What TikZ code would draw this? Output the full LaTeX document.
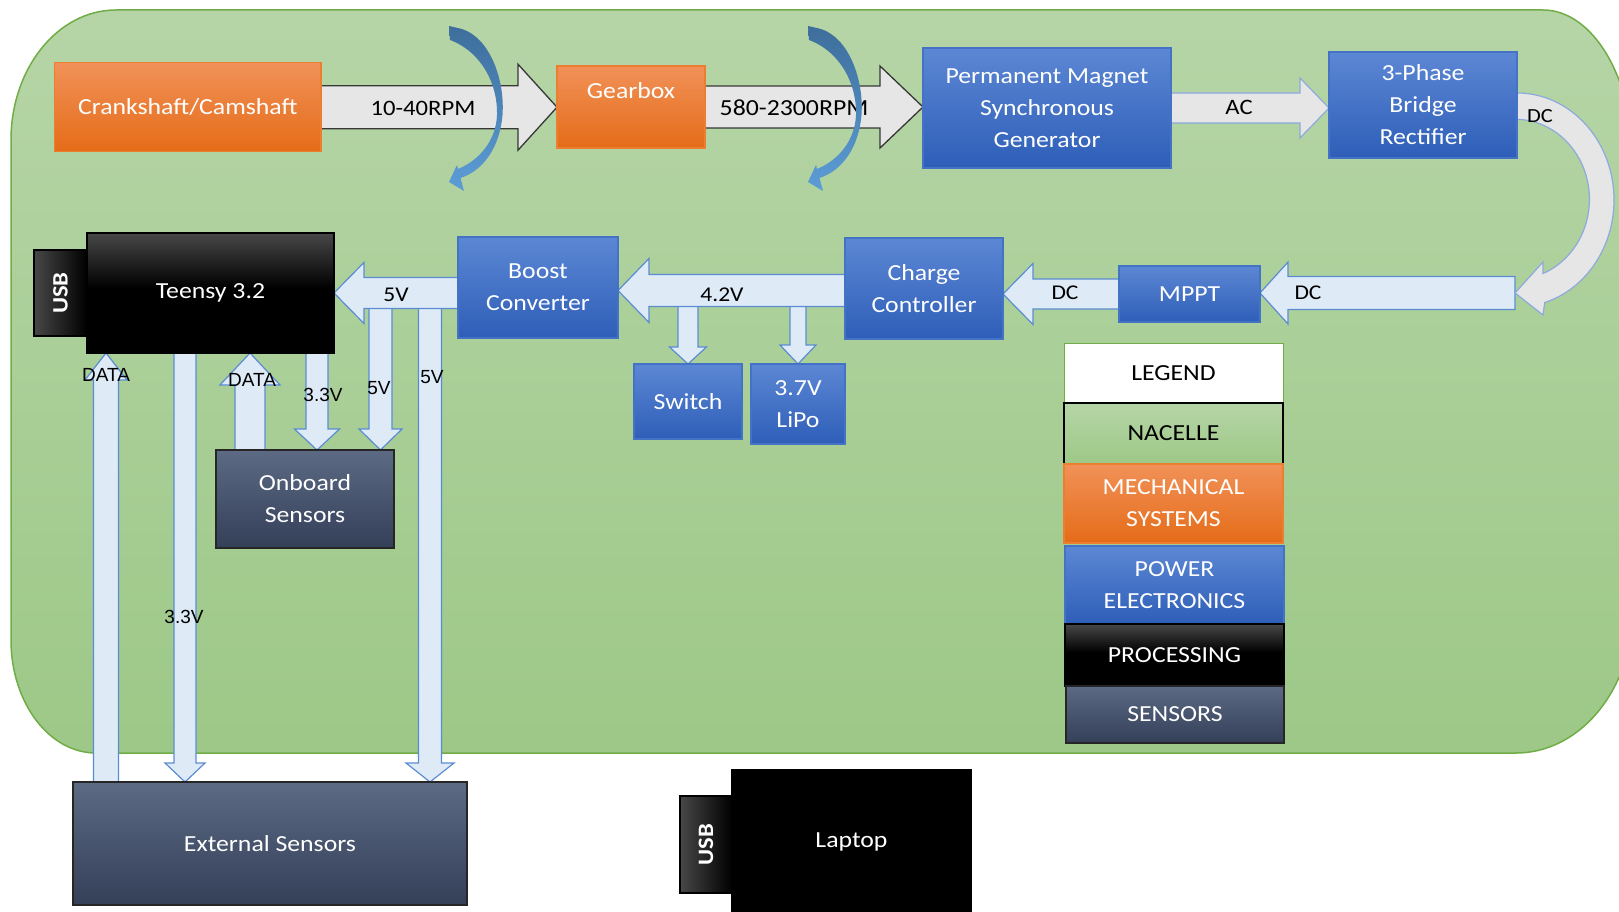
\documentclass[tikz,border=0pt]{standalone}
\usepackage{fontspec}
\usepackage{graphicx}
\setmainfont{Carlito}[FakeStretch=1.12]
\newfontfamily\arialf{Liberation Sans}
\usetikzlibrary{calc}
\pgfdeclarelayer{bg}
\pgfdeclarelayer{arr}
\pgfsetlayers{bg,arr,main}
\definecolor{orTop}{RGB}{241,145,88}
\definecolor{orBot}{RGB}{229,108,24}
\definecolor{orBd}{RGB}{237,125,49}
\definecolor{blTop}{RGB}{92,135,212}
\definecolor{blBot}{RGB}{46,94,184}
\definecolor{blBd}{RGB}{68,114,196}
\definecolor{slTop}{RGB}{92,106,132}
\definecolor{slBot}{RGB}{52,63,88}
\definecolor{grTop}{RGB}{182,213,167}
\definecolor{grBot}{RGB}{157,200,135}
\definecolor{grBd}{RGB}{112,173,71}
\definecolor{lbFill}{RGB}{222,235,247}
\definecolor{lbBd}{RGB}{91,140,210}
\definecolor{gyFill}{RGB}{231,230,230}
\definecolor{gyBd}{RGB}{55,55,55}
\definecolor{gbBd}{RGB}{140,170,220}
\definecolor{rotTop}{RGB}{62,110,155}
\definecolor{rotBot}{RGB}{92,157,215}
\pgfdeclareverticalshading{blkshade}{100bp}{color(0bp)=(black); color(25bp)=(black); color(52bp)=(black); color(75bp)=(black!72); color(100bp)=(black!72)}
% horizontal block arrow: style, from, to, shaft half width, head half width, head length
\newcommand\hblock[6]{%
  \path[#1] let \p1=(#2), \p2=(#3), \n1={sign(\x2-\x1)} in
    (\x1,{\y1+#4}) -- ({\x2-(\n1)*#6},{\y1+#4}) -- ({\x2-(\n1)*#6},{\y1+#5}) -- (\x2,\y1)
    -- ({\x2-(\n1)*#6},{\y1-#5}) -- ({\x2-(\n1)*#6},{\y1-#4}) -- (\x1,{\y1-#4}) -- cycle;}
% vertical block arrow
\newcommand\vblock[6]{%
  \path[#1] let \p1=(#2), \p2=(#3), \n1={sign(\y2-\y1)} in
    ({\x1+#4},\y1) -- ({\x1+#4},{\y2-(\n1)*#6}) -- ({\x1+#5},{\y2-(\n1)*#6}) -- (\x1,\y2)
    -- ({\x1-#5},{\y2-(\n1)*#6}) -- ({\x1-#4},{\y2-(\n1)*#6}) -- ({\x1-#4},\y1) -- cycle;}
% rotation symbol (curved arrow) shifted horizontally
\newcommand\rotarrow[1]{%
  \path[rotstyle, shift={(#1,0)}] (449,26) -- (462,29)
    .. controls (490,38) and (505,80) .. (502.5,115)
    .. controls (500,145) and (485,170) .. (460.5,178)
    -- (464,191) -- (449,182) -- (457,165) -- (458,169)
    .. controls (480,160) and (496,140) .. (497,115)
    .. controls (498,85) and (482,52) .. (450,40) -- cycle;}
\begin{document}
\begin{tikzpicture}[x=1pt,y=-1pt,
  box/.style={inner sep=0pt, outer sep=0pt, align=center, text=white,
    font=\fontsize{23}{32}\selectfont, line width=1.2pt},
  orbox/.style={box, draw=orBd, top color=orTop, bottom color=orBot},
  blbox/.style={box, draw=blBd, top color=blTop, bottom color=blBot},
  slbox/.style={box, draw=black!85, top color=slTop, bottom color=slBot},
  bkbox/.style={box, draw=black, shading=blkshade},
  usbbox/.style={box, draw=black, left color=black!72, right color=black,
    font=\bfseries\fontsize{22}{22}\selectfont},
  lbarrow/.style={fill=lbFill, draw=lbBd, line width=1.2pt},
  gyarrow/.style={fill=gyFill, draw=gyBd, line width=1.3pt},
  gbarrow/.style={fill=gyFill, draw=gbBd, line width=1.2pt},
  rotstyle/.style={top color=rotTop, bottom color=rotBot, draw=none},
  lab/.style={inner sep=0pt, text=black, font=\fontsize{22}{22}\selectfont},
  alab/.style={inner sep=0pt, text=black, font=\arialf\fontsize{19}{19}\selectfont}]
\useasboundingbox (0,0) rectangle (1619,912);
\clip (0,0) rectangle (1619,912);
\begin{pgfonlayer}{bg}
\fill[white] (0,0) rectangle (1619,912);
\path[draw=grBd, line width=1.5pt, top color=grTop, bottom color=grBot]
  (11,640) -- (11,140) arc[start angle=180,end angle=270,x radius=105,y radius=130]
  -- (1543,10) arc[start angle=270,end angle=360,x radius=90,y radius=151]
  -- (1633,609) arc[start angle=0,end angle=90,x radius=117,y radius=144]
  -- (96,753) arc[start angle=90,end angle=180,x radius=85,y radius=113] -- cycle;
\end{pgfonlayer}

% main blocks
\node[orbox, minimum width=266.5pt, minimum height=89pt] (crank) at (187.8,107.2) {Crankshaft/Camshaft};
\node[orbox, minimum width=148pt, minimum height=82pt, text height=16pt, text depth=32pt] (gear) at (631,107) {Gearbox};
\node[blbox, minimum width=248pt, minimum height=120pt] (pmsg) at (1047,108) {Permanent Magnet\\Synchronous\\Generator};
\node[blbox, minimum width=188pt, minimum height=106pt] (rect) at (1423,105) {3-Phase\\Bridge\\Rectifier};
\node[blbox, minimum width=141pt, minimum height=56pt] (mppt) at (1189.5,294) {MPPT};
\node[blbox, minimum width=158pt, minimum height=101pt] (cc) at (924,288.5) {Charge\\Controller};
\node[blbox, minimum width=160pt, minimum height=101pt] (boost) at (538,287.5) {Boost\\Converter};
\node[blbox, minimum width=108pt, minimum height=75pt] (switch) at (688,401.5) {Switch};
\node[blbox, minimum width=94pt, minimum height=80pt] (lipo) at (798,404) {3.7V\\LiPo};
\node[bkbox, minimum width=247pt, minimum height=120pt] (teensy) at (210.5,293) {Teensy 3.2};
\node[usbbox, minimum width=53pt, minimum height=86pt] (usbA) at (60.5,293) {\rotatebox{90}{USB}};
\node[slbox, minimum width=178pt, minimum height=98pt] (onb) at (305,499) {Onboard\\Sensors};
\node[slbox, minimum width=394pt, minimum height=123pt] (ext) at (270,843.5) {External Sensors};
\node[box, fill=black, draw=black, minimum width=239pt, minimum height=144pt] (laptop) at (851.5,842) {Laptop};
\node[usbbox, minimum width=52pt, minimum height=97pt] (usbB) at (706,844.5) {\rotatebox{90}{USB}};

% legend
\node[box, text=black, fill=white, draw=grBd, line width=1pt, minimum width=219pt, minimum height=60pt] (leg) at (1173.5,373) {LEGEND};
\node[box, text=black, draw=black, line width=1.5pt, top color=grTop, bottom color=grBot, minimum width=219pt, minimum height=61pt] (nac) at (1173.5,433.5) {NACELLE};
\node[orbox, minimum width=219pt, minimum height=79pt] (mech) at (1173.5,503.5) {MECHANICAL\\SYSTEMS};
\node[blbox, minimum width=219pt, minimum height=78pt] (pow) at (1174.5,585) {POWER\\ELECTRONICS};
\node[bkbox, minimum width=219pt, minimum height=62pt] (proc) at (1174.5,655) {PROCESSING};
\node[slbox, minimum width=218pt, minimum height=57pt] (sens) at (1175,714.5) {SENSORS};

% connectors
\begin{pgfonlayer}{arr}
\coordinate (x106) at (106,0);
\coordinate (x185) at (185,0);
\coordinate (x250) at (250,0);
\coordinate (x317) at (317,0);
\coordinate (x380) at (380.5,0);
\coordinate (x430) at (430,0);
\coordinate (dcturn) at (1515,293);
% vertical arrows first
\vblock{lbarrow}{switch.north |- cc.west}{switch.north}{10}{18.5}{17}
\vblock{lbarrow}{lipo.north |- cc.west}{lipo.north}{8}{18}{19}
\vblock{lbarrow}{x380 |- teensy.east}{x380 |- onb.north}{11.5}{21.5}{21}
\vblock{lbarrow}{x430 |- teensy.east}{x430 |- ext.north}{11.5}{24}{19}
\vblock{lbarrow}{x317 |- teensy.south}{x317 |- onb.north}{11}{22.5}{21}
\vblock{lbarrow}{x250 |- onb.north}{x250 |- teensy.south}{15}{30}{32}
\vblock{lbarrow}{x106 |- ext.north}{x106 |- teensy.south}{12.5}{21}{27}
\vblock{lbarrow}{x185 |- teensy.south}{x185 |- ext.north}{11}{20}{19}
% horizontal arrows
\hblock{gyarrow}{crank.east}{gear.west}{21.5}{43}{39}
\hblock{gyarrow}{gear.east}{pmsg.west}{21}{41}{43}
\hblock{gbarrow}{pmsg.east}{rect.west}{15}{30}{29}
\hblock{lbarrow}{dcturn}{mppt.east}{16.5}{31}{28}
\hblock{lbarrow}{mppt.west}{cc.east}{15}{30.5}{30}
\hblock{lbarrow}{$(cc.west)+(0,2)$}{boost.east}{16}{32}{31}
\hblock{lbarrow}{boost.west |- teensy.east}{teensy.east}{15.5}{30.5}{30}
% curved DC arrow from rectifier
\path[gbarrow] ($(rect.east)+(0,-12)$) arc[start angle=-90,end angle=73.4,x radius=97,y radius=107]
  -- (1543,315) -- (dcturn) -- (1543,262) -- (1543,273.5)
  arc[start angle=68.1,end angle=-90,x radius=74,y radius=80] -- cycle;
\end{pgfonlayer}

% labels
\node[lab] (t1) at (423,108) {10-40RPM};
\node[lab, font=\fontsize{23}{23}\selectfont] (t2) at (794,108) {580-2300RPM};
\node[lab] (t3) at (1239,107) {AC};
\node[lab, font=\fontsize{20}{20}\selectfont] (t4) at (1540,116) {DC};
\node[lab, font=\fontsize{21}{21}\selectfont] (t5) at (1308,293) {DC};
\node[lab, font=\fontsize{21}{21}\selectfont] (t6) at (1065,293) {DC};
\node[lab, font=\fontsize{21}{21}\selectfont] (t7) at (722,295) {4.2V};
\node[lab, font=\fontsize{21}{21}\selectfont] (t8) at (396,295) {5V};
\node[alab] (t9) at (106,375) {DATA};
\node[alab] (t10) at (252,380) {DATA};
\node[alab] (t11) at (323,395) {3.3V};
\node[alab] (t12) at (379,388) {5V};
\node[alab] (t13) at (432,377) {5V};
\node[alab] (t14) at (184,617) {3.3V};

% rotation symbols
\rotarrow{0}
\rotarrow{359}
\end{tikzpicture}
\end{document}
